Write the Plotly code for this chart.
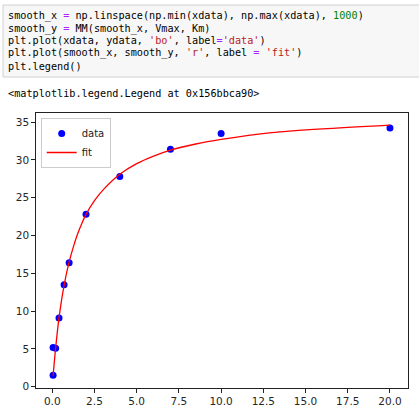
import plotly.graph_objects as go

# data
xdata = [0.05, 0.05, 0.2, 0.4, 0.7, 1.0, 2.0, 4.0, 7.0, 10.0, 20.0]
ydata = [1.5, 5.2, 5.1, 9.1, 13.5, 16.4, 22.8, 27.8, 31.4, 33.5, 34.2]

# fitted curve
fit_x = [0.05, 0.2, 0.4, 0.7, 1.0, 1.25, 1.5, 1.75, 2.0, 2.5, 3.0, 4.0, 5.0, 6.0, 7.0, 8.5, 10.0, 13.0, 16.0, 20.0]
fit_y = [1.45, 5.1, 9.1, 13.4, 16.5, 18.5, 20.2, 21.6, 22.8, 24.6, 26.0, 28.1, 29.5, 30.5, 31.3, 32.1, 32.7, 33.6, 34.1, 34.6]

code_lines = [
    "smooth_x <span style='color:#aa22ff'>=</span> np.linspace(np.min(xdata), np.max(xdata), <span style='color:#008000'>1000</span>)",
    "smooth_y <span style='color:#aa22ff'>=</span> MM(smooth_x, Vmax, Km)",
    "plt.plot(xdata, ydata, <span style='color:#ba2121'>'bo'</span>, label<span style='color:#aa22ff'>=</span><span style='color:#ba2121'>'data'</span>)",
    "plt.plot(smooth_x, smooth_y, <span style='color:#ba2121'>'r'</span>, label <span style='color:#aa22ff'>=</span> <span style='color:#ba2121'>'fit'</span>)",
    "plt.legend()",
]
output_line = "&lt;matplotlib.legend.Legend at 0x156bbca90&gt;"

W, H = 419, 416

fig = go.Figure()
fig.add_trace(go.Scatter(x=xdata, y=ydata, mode="markers", name="data",
                         marker=dict(color="#0000ff", size=7)))
fig.add_trace(go.Scatter(x=fit_x, y=fit_y, mode="lines", name="fit",
                         line=dict(color="#ff0000", width=1.3, shape="spline", smoothing=0.8)))

def px(x):
    return x / W

def py(y):
    return 1 - y / H

# code cell box
fig.add_shape(type="rect", xref="paper", yref="paper",
              x0=px(3), x1=px(425), y0=py(77), y1=py(5),
              fillcolor="#f7f7f7", line=dict(color="#d0d0d0", width=1), layer="below")

line_ys = [16, 28.5, 41, 53.5, 66]
for txt, yy in zip(code_lines, line_ys):
    fig.add_annotation(text=txt, xref="paper", yref="paper", x=px(6), y=py(yy),
                       xanchor="left", yanchor="middle", showarrow=False,
                       font=dict(family="DejaVu Sans Mono", size=10.2, color="#000000"))
fig.add_annotation(text=output_line, xref="paper", yref="paper", x=px(6), y=py(93),
                   xanchor="left", yanchor="middle", showarrow=False,
                   font=dict(family="DejaVu Sans Mono", size=10.2, color="#000000"))

axis_common = dict(showgrid=False, zeroline=False, showline=True, mirror=True,
                   linecolor="#222222", linewidth=1, ticks="outside", ticklen=3.5,
                   tickwidth=0.8, tickcolor="#222222", automargin=False,
                   tickfont=dict(family="DejaVu Sans", size=10.5, color="#262626"))

fig.update_layout(
    template="none",
    width=W, height=H,
    margin=dict(l=0, r=0, t=0, b=0),
    paper_bgcolor="white", plot_bgcolor="white",
    xaxis=dict(domain=[px(35.7), px(407.7)], range=[-0.98, 21.05],
               tickvals=[0, 2.5, 5, 7.5, 10, 12.5, 15, 17.5, 20],
               ticktext=["0.0", "2.5", "5.0", "7.5", "10.0", "12.5", "15.0", "17.5", "20.0"],
               **axis_common),
    yaxis=dict(domain=[py(388.3), py(112.7)], range=[-0.21, 36.24],
               tickvals=[0, 5, 10, 15, 20, 25, 30, 35], **axis_common),
    legend=dict(x=px(40.7), y=py(118), xanchor="left", yanchor="top",
                bgcolor="rgba(255,255,255,0.8)", bordercolor="#cccccc", borderwidth=1,
                font=dict(family="DejaVu Sans", size=10, color="#222222"),
                tracegroupgap=0, itemwidth=30),
    showlegend=True,
)

fig.write_html("out.html", config={"displayModeBar": False},
               post_script="document.body.style.margin='0';document.body.style.overflow='hidden';")
